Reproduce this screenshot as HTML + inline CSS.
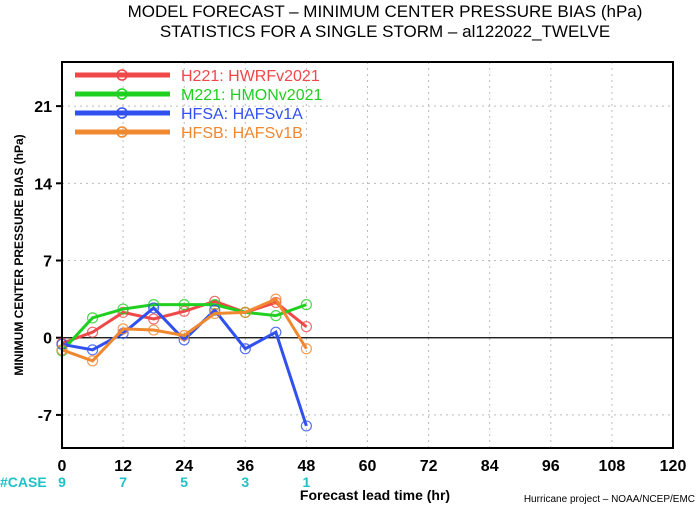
<!DOCTYPE html>
<html><head><meta charset="utf-8"><style>
body{margin:0;background:#fff;}
svg{display:block;font-family:"Liberation Sans",sans-serif;}
</style></head><body>
<svg id="c" width="700" height="506">
<text x="385" y="17" text-anchor="middle" font-size="17">MODEL FORECAST – MINIMUM CENTER PRESSURE BIAS (hPa)</text>
<text x="385" y="37" text-anchor="middle" font-size="17">STATISTICS FOR A SINGLE STORM – al122022_TWELVE</text>
<text transform="translate(23,255) rotate(-90)" text-anchor="middle" font-size="12" font-weight="bold">MINIMUM CENTER PRESSURE BIAS (hPa)</text>
<text x="375" y="500" text-anchor="middle" font-size="14" font-weight="bold">Forecast lead time (hr)</text>
<text x="695" y="502" text-anchor="end" font-size="10">Hurricane project – NOAA/NCEP/EMC</text>
<text x="0" y="487" font-size="14" font-weight="bold" fill="#20c0c8">#CASE</text>
<g id="grid"></g><g id="series"></g>
<rect x="62" y="62" width="611" height="386" fill="none" stroke="#000" stroke-width="2"/>
<g id="legend"></g>
</svg>
<script>
const hours=[0,6,12,18,24,30,36,42,48];
const xTicks=[0,12,24,36,48,60,72,84,96,108,120];
const yTicks=[-7,0,7,14,21];
const caseHours=[0,12,24,36,48];
const caseCounts=[9,7,5,3,1];
const h221=[-0.5,0.5,2.3,1.7,2.4,3.3,2.3,3.2,1.0];
const m221=[-1.2,1.8,2.6,3.0,3.0,3.0,2.3,2.0,3.0];
const hfsa=[-0.6,-1.1,0.4,2.7,-0.2,2.5,-1.0,0.5,-8.0];
const hfsb=[-1.1,-2.1,0.8,0.7,0.2,2.2,2.3,3.5,-1.0];
const seriesNames=["H221: HWRFv2021","M221: HMONv2021","HFSA: HAFSv1A","HFSB: HAFSv1B"];
const colors=["#f04848","#20d020","#3050f0","#f08830"];
const NS="http://www.w3.org/2000/svg";
const X=v=>62+v*(611/120), Y=v=>448-(v+10)*(386/35);
function mk(t,a,p){const e=document.createElementNS(NS,t);for(const k in a)e.setAttribute(k,a[k]);p.appendChild(e);return e;}
const g=document.getElementById('grid');
xTicks.forEach(t=>{
 if(t>0&&t<120){const l=mk('line',{x1:X(t),x2:X(t),y1:62,y2:448,stroke:'#bbb','stroke-dasharray':'2,4'},g);
 
 }
 const tx=mk('text',{x:X(t),y:471,'text-anchor':'middle','font-size':16,'font-weight':'bold'},g);tx.textContent=t;
 
 
});
yTicks.forEach(t=>{
 const l=mk('line',{x1:62,x2:673,y1:Y(t),y2:Y(t),stroke:t==0?'#000':'#bbb','stroke-dasharray':t==0?'':'2,4','stroke-width':t==0?1.2:1},g);
 
 
 mk('line',{x1:56,x2:62,y1:Y(t),y2:Y(t),stroke:'#000','stroke-width':2},g);
 const tx=mk('text',{x:52,y:Y(t)+6,'text-anchor':'end','font-size':16,'font-weight':'bold'},g);tx.textContent=t;
 
 
});
caseHours.forEach((h,i)=>{
 const tx=mk('text',{x:X(h),y:487,'text-anchor':'middle','font-size':14,'font-weight':'bold',fill:'#20c0c8'},g);tx.textContent=caseCounts[i];
 
 
});
const s=document.getElementById('series');
[h221,m221,hfsa,hfsb].forEach((d,i)=>{
 const grp=mk('g',{},s);
 
 
 mk('polyline',{points:d.map((v,j)=>X(hours[j])+','+Y(v)).join(' '),fill:'none',stroke:colors[i],'stroke-width':3},grp);
 d.forEach((v,j)=>{const c=mk('circle',{cx:X(hours[j]),cy:Y(v),r:5,fill:'none',stroke:colors[i],'stroke-width':1.2,opacity:0.8},grp);
 
 });
});
const lg=document.getElementById('legend');
seriesNames.forEach((n,i)=>{
 const y=75+i*19;
 const gg=mk('g',{},lg);
 
 
 mk('line',{x1:75,x2:170,y1:y,y2:y,stroke:colors[i],'stroke-width':5},gg);
 mk('circle',{cx:122,cy:y,r:5,fill:'none',stroke:colors[i],'stroke-width':1.5},gg);
 const t=mk('text',{x:181,y:y+6,'font-size':16,fill:colors[i]},gg);t.textContent=n;
});
</script>
</body></html>
